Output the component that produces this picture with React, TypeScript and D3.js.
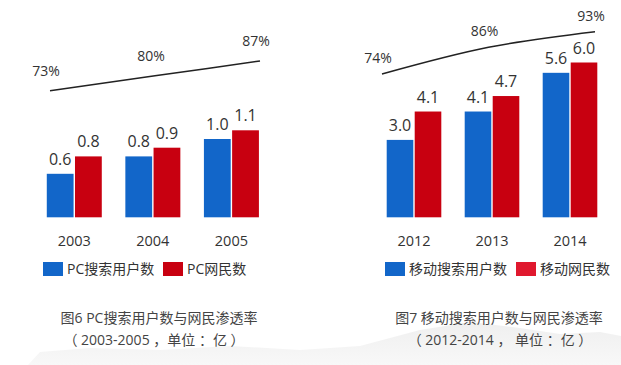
import React from "react";
import * as d3 from "d3";

const pcYears = ["2003", "2004", "2005"];
const pcSearchUsers = [0.6, 0.8, 1.0];
const pcNetizens = [0.8, 0.9, 1.1];
const pcPenetration = [73, 80, 87];

const mobileYears = ["2012", "2013", "2014"];
const mobileSearchUsers = [3.0, 4.1, 5.6];
const mobileNetizens = [4.1, 4.7, 6.0];
const mobilePenetration = [74, 86, 93];

const pcLegend = ["PC搜索用户数", "PC网民数"];
const mobileLegend = ["移动搜索用户数", "移动网民数"];

const W = 621;
const H = 365;
const BLUE = "#1266C9";
const RED = "#C80010";
const RED2 = "#E0182E";
const TEXT = "#333";
const FONT = "'Open Sans', 'Noto Sans CJK SC', sans-serif";

type Panel = {
  years: string[];
  a: number[];
  b: number[];
  pen: number[];
  legend: string[];
  legendX: number[];
  legendColors: string[];
  title: string;
  subtitle: string;
  titleX: number;
  subX: number;
  band: [number, number];
  barDomain: [number, number];
  barRange: [number, number];
  lineX: [number, number];
  lineDomain: [number, number];
  lineRange: [number, number];
  labelDy: number;
};

const panels: Panel[] = [
  {
    years: pcYears,
    a: pcSearchUsers,
    b: pcNetizens,
    pen: pcPenetration,
    legend: pcLegend,
    legendX: [43, 163],
    legendColors: [BLUE, RED],
    title: "图6 PC搜索用户数与网民渗透率",
    subtitle: "（ 2003-2005 ，单位 ：亿 ）",
    titleX: 159,
    subX: 154,
    band: [35, 270.7],
    barDomain: [0.1, 1.1],
    barRange: [217.3, 130.3],
    lineX: [50, 260],
    lineDomain: [73, 87],
    lineRange: [90.7, 61],
    labelDy: -15,
  },
  {
    years: mobileYears,
    a: mobileSearchUsers,
    b: mobileNetizens,
    pen: mobilePenetration,
    legend: mobileLegend,
    legendX: [385, 516],
    legendColors: [BLUE, RED2],
    title: "图7 移动搜索用户数与网民渗透率",
    subtitle: "（ 2012-2014 ， 单位 ：亿 ）",
    titleX: 499,
    subX: 500,
    band: [375, 609],
    barDomain: [0, 6],
    barRange: [217.3, 62.5],
    lineX: [382, 595],
    lineDomain: [74, 93],
    lineRange: [74, 31.7],
    labelDy: -11,
  },
];

function PanelView({ p }: { p: Panel }) {
  const x0 = d3.scaleBand<string>().domain(p.years).range(p.band).paddingInner(0.3).paddingOuter(0.15);
  const x1 = d3.scaleBand<string>().domain(["a", "b"]).range([0, x0.bandwidth()]).paddingInner(0.05);
  const y = d3.scaleLinear().domain(p.barDomain).range(p.barRange);
  const lx = d3.scalePoint<string>().domain(p.years).range(p.lineX);
  const ly = d3.scaleLinear().domain(p.lineDomain).range(p.lineRange);
  const line = d3
    .line<number>()
    .x((_, i) => lx(p.years[i]) as number)
    .y((d) => ly(d))
    .curve(d3.curveMonotoneX);
  const series = [
    { key: "a", vals: p.a, color: BLUE },
    { key: "b", vals: p.b, color: RED },
  ];
  return (
    <g>
      <path d={line(p.pen) || ""} fill="none" stroke="#222" strokeWidth={1.5} />
      {p.pen.map((v, i) => (
        <text
          key={"p" + i}
          x={(lx(p.years[i]) as number) - 4}
          y={ly(v) + p.labelDy}
          textAnchor="middle"
          fontSize={14}
          fill={TEXT}
          fontFamily={FONT}
        >
          {v}%
        </text>
      ))}
      {p.years.map((yr, i) => (
        <g key={yr}>
          {series.map((s) => {
            const bx = (x0(yr) as number) + (x1(s.key) as number);
            const top = y(s.vals[i]);
            return (
              <g key={s.key}>
                <rect x={bx} y={top} width={x1.bandwidth()} height={p.barRange[0] - top} fill={s.color} />
                <text
                  x={bx + x1.bandwidth() / 2}
                  y={top - 9}
                  textAnchor="middle"
                  fontSize={16}
                  fill={TEXT}
                  fontFamily={FONT}
                >
                  {s.vals[i].toFixed(1)}
                </text>
              </g>
            );
          })}
          <text
            x={(x0(yr) as number) + x0.bandwidth() / 2}
            y={246}
            textAnchor="middle"
            fontSize={14.5}
            fill={TEXT}
            fontFamily={FONT}
          >
            {yr}
          </text>
        </g>
      ))}
      {p.legend.map((name, i) => (
        <g key={name}>
          <rect x={p.legendX[i]} y={262} width={20} height={14} fill={p.legendColors[i]} />
          <text x={p.legendX[i] + 24} y={274} fontSize={14} fill={TEXT} fontFamily={FONT}>
            {name}
          </text>
        </g>
      ))}
      <text x={p.titleX} y={323} textAnchor="middle" fontSize={14} fill="#444" fontFamily={FONT}>
        {p.title}
      </text>
      <text x={p.subX} y={344.5} textAnchor="middle" fontSize={14} fill="#444" fontFamily={FONT}>
        {p.subtitle}
      </text>
    </g>
  );
}

export default function App() {
  return (
    <svg
      width={W}
      height={H}
      viewBox={`0 0 ${W} ${H}`}
      style={{ position: "absolute", left: 0, top: 0, background: "#fff" }}
    >
      <defs>
        <linearGradient id="mtn" x1="0" y1="0" x2="0" y2="1">
          <stop offset="0" stopColor="#efefef" />
          <stop offset="1" stopColor="#f8f8f8" />
        </linearGradient>
      </defs>
      <rect width={W} height={H} fill="#fff" />
      <path
        d="M28,365 L40,352 L90,348 L160,350 L230,346 L300,350 L360,346 L420,330 L470,322 L520,328 L560,334 L600,332 L621,336 L621,365 Z"
        fill="url(#mtn)"
      />
      {panels.map((p, i) => (
        <PanelView key={i} p={p} />
      ))}
    </svg>
  );
}
